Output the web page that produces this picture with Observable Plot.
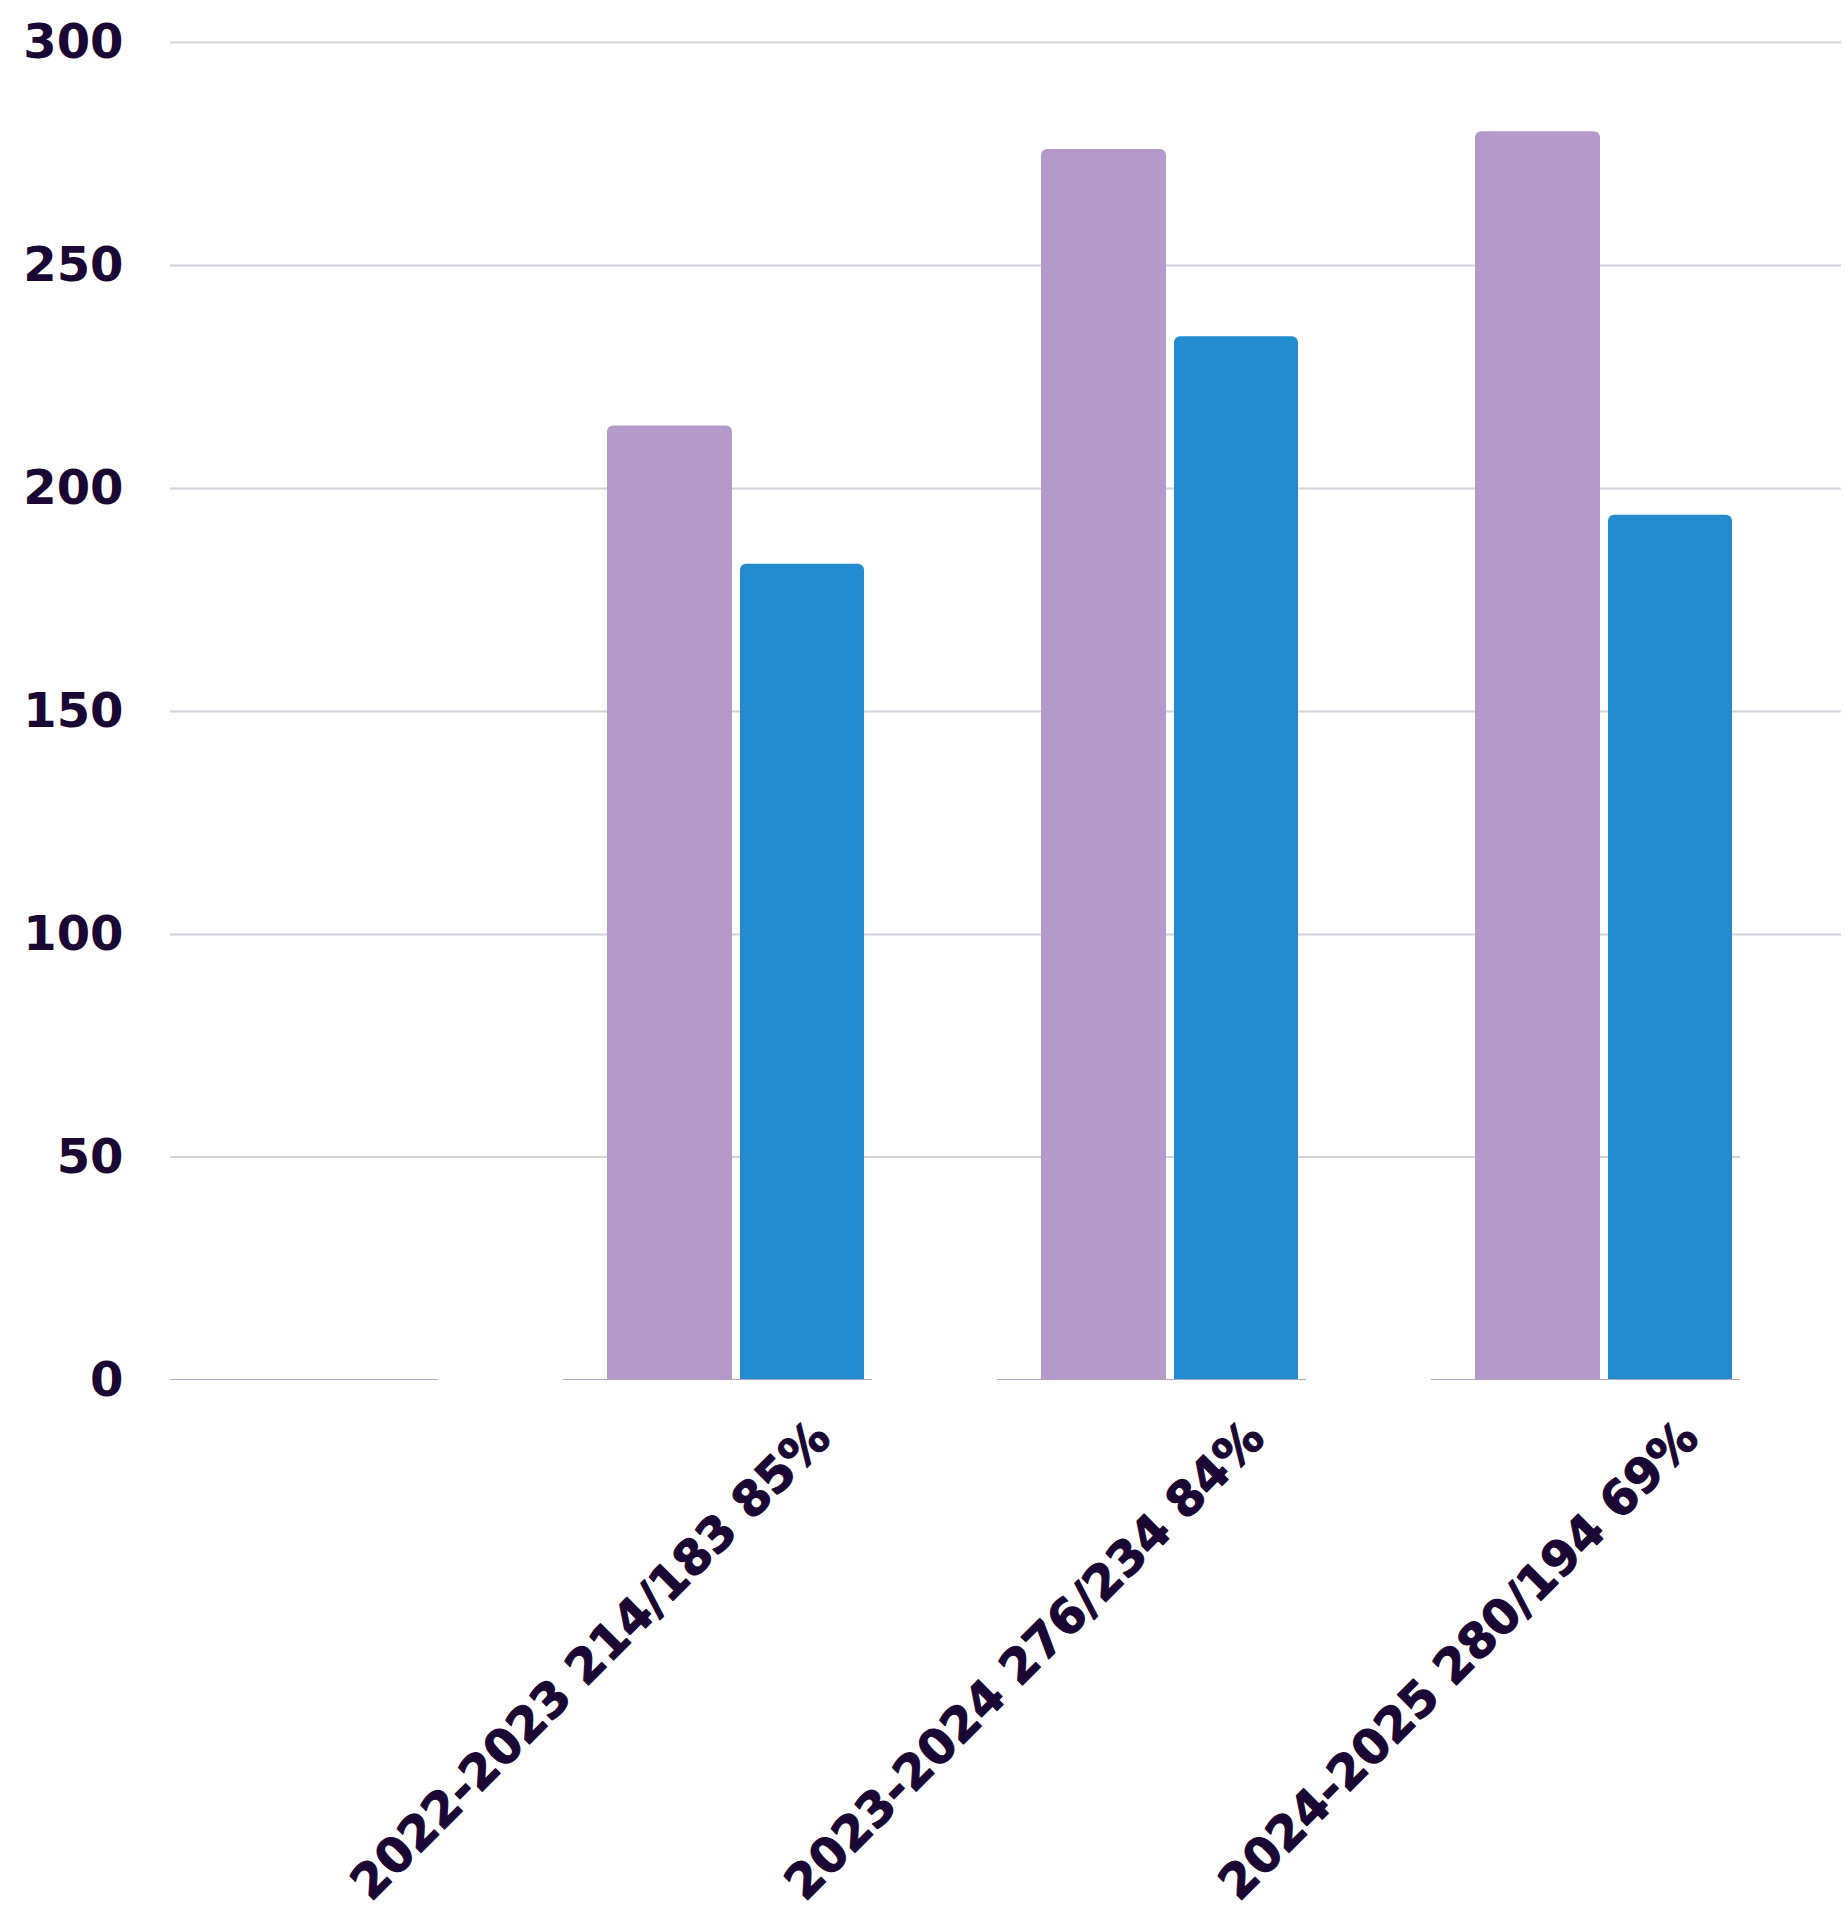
<!DOCTYPE html>
<html><head><meta charset="utf-8">
<script src="https://cdn.jsdelivr.net/npm/d3@7"></script>
<script src="https://cdn.jsdelivr.net/npm/@observablehq/plot@0.6"></script>
<style>
html,body{margin:0;padding:0;background:#fff;}
</style>
</head><body><div id="chart"></div>
<script>
// ---- data ----
const seasons = ["", "2022-2023", "2023-2024", "2024-2025"];
const totalValues = [null, 214, 276, 280];
const completedValues = [null, 183, 234, 194];
const percentLabels = ["", "85%", "84%", "69%"];
const yTicks = [0, 50, 100, 150, 200, 250, 300];

const labels = seasons.map((s, i) => s ? `${s} ${totalValues[i]}/${completedValues[i]} ${percentLabels[i]}` : "");
const totalBars = seasons.map((s, i) => ({season: s, value: totalValues[i]})).filter(d => d.value != null);
const completedBars = seasons.map((s, i) => ({season: s, value: completedValues[i]})).filter(d => d.value != null);

const textColor = "#1b0733";
const gridColor = "#d4d2db";
const font = "DejaVu Sans";

const chart = Plot.plot({
  width: 1845,
  height: 1912,
  marginTop: 42,
  marginBottom: 532,
  marginLeft: 170,
  marginRight: 4,
  style: {fontFamily: font, background: "#fff", color: textColor},
  x: {type: "band", domain: seasons, range: [127, 1742], paddingInner: 0.287, paddingOuter: 0, axis: null},
  y: {domain: [0, 300], axis: null},
  marks: [
    Plot.ruleY(yTicks.filter(d => d > 50), {stroke: gridColor, strokeWidth: 2}),
    // the 50 gridline stops at the end of the last group
    Plot.rect([50], {x1: () => seasons[0], x2: () => seasons[seasons.length - 1], y1: d => d, y2: d => d, insetTop: -1, insetBottom: -1, fill: gridColor, clip: true}),
    Plot.barY(totalBars, {x: "season", y: "value", fill: "#b49acb", insetLeft: 44, insetRight: 140, rx: 6, insetBottom: -12, clip: true}),
    Plot.barY(completedBars, {x: "season", y: "value", fill: "#238ccf", insetLeft: 177, insetRight: 8, rx: 6, insetBottom: -12, clip: true}),
    Plot.tickY(seasons, {x: d => d, y: 0, stroke: "#b1a4c4", strokeWidth: 3.2, clip: true}),
    Plot.axisY({ticks: yTicks, label: null, tickSize: 0, tickPadding: 47, fontSize: 48, fontWeight: "bold", color: textColor, fontFamily: font, stroke: textColor, strokeWidth: 1.2}),
    Plot.text(seasons, {
      x: d => d,
      text: (d, i) => labels[i],
      frameAnchor: "bottom",
      rotate: -45,
      textAnchor: "end",
      lineAnchor: "bottom",
      dx: 115,
      dy: 60,
      fontSize: 48,
      fontWeight: "bold",
      fill: textColor,
      stroke: textColor,
      strokeWidth: 1.2,
      fontFamily: font
    })
  ]
});
document.getElementById("chart").appendChild(chart);
</script>
</body></html>
